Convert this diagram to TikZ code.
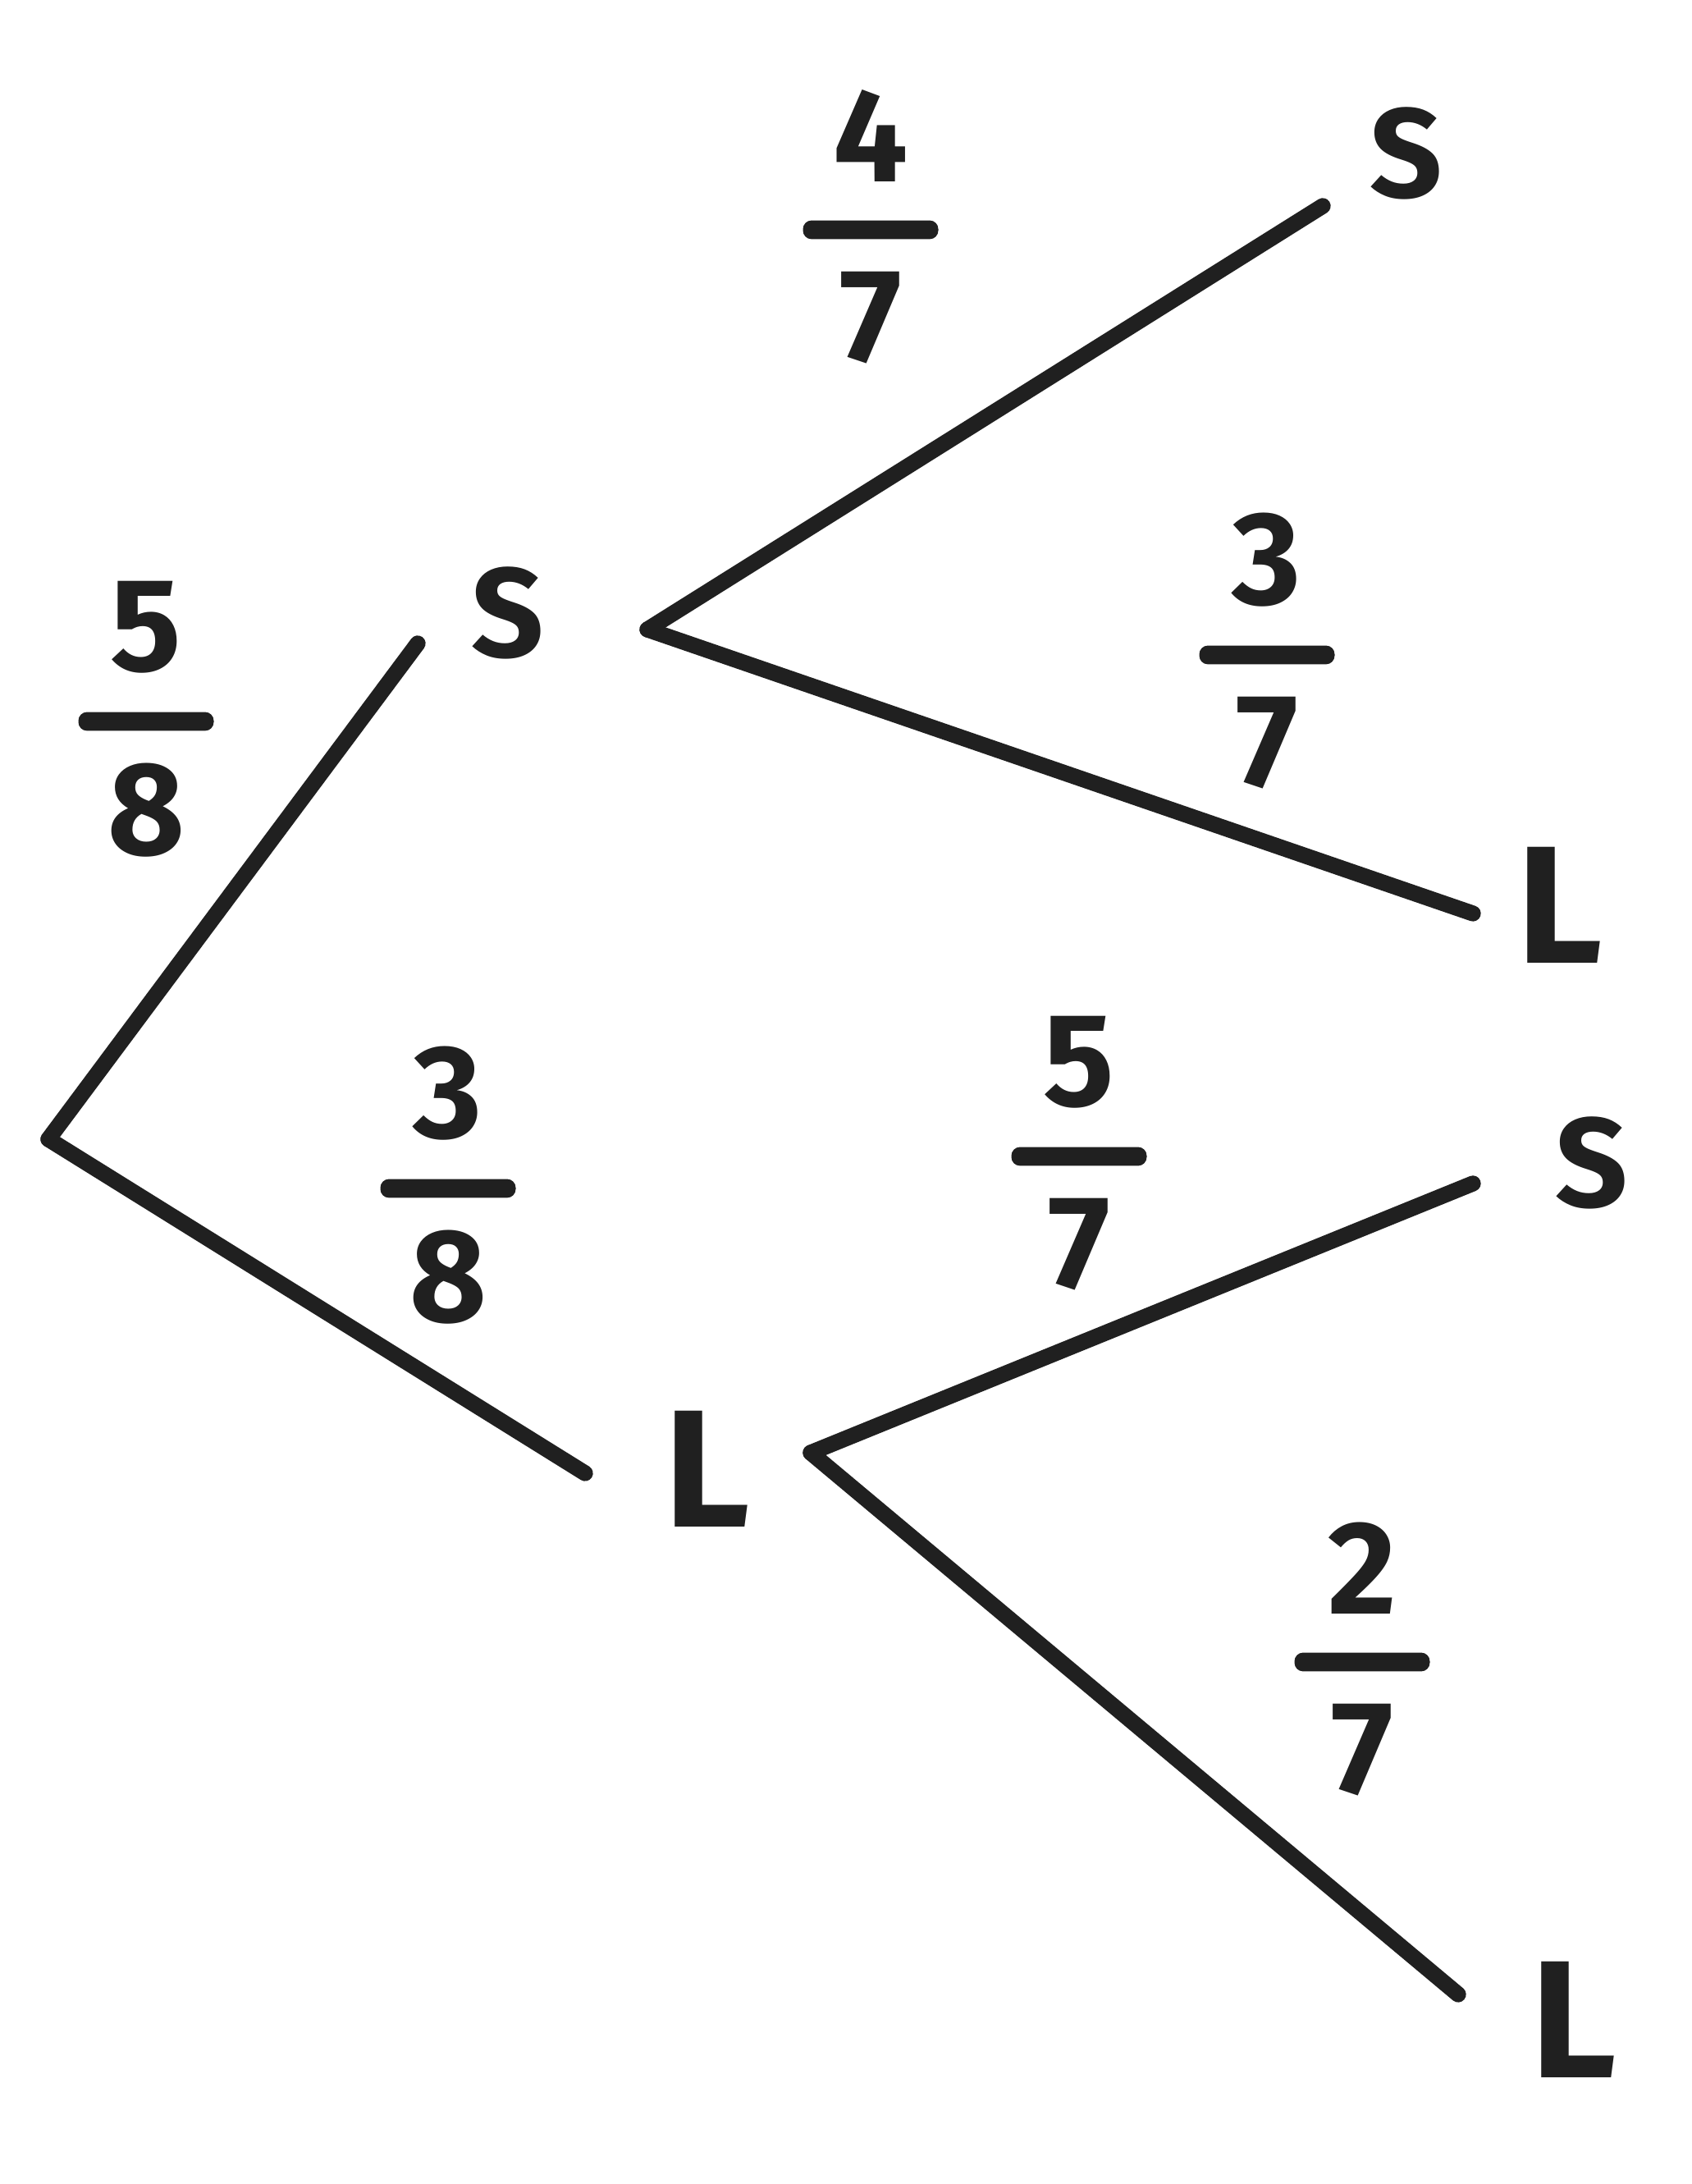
\documentclass[tikz,border=0pt]{standalone}
\usepackage{fontspec}
\setmainfont{Fira Sans}
\usepackage{xcolor}
\usetikzlibrary{positioning}
\definecolor{inkgray}{HTML}{202020}
\tikzset{
    branch/.style={draw=inkgray, line width=5.5pt, line cap=round},
    leaf/.style={text=inkgray, inner sep=0pt, font=\bfseries\fontsize{44}{52}\selectfont},
    bigleaf/.style={leaf, font=\bfseries\fontsize{58}{66}\selectfont},
    digit/.style={text=inkgray, inner sep=0pt, font=\bfseries\fontsize{46}{54}\selectfont},
    fracbar/.style={fill=inkgray, minimum width=1.65cm, minimum height=6.5pt, inner sep=0pt, rounded corners=3pt}
}
\begin{document}
\begin{tikzpicture}
        \useasboundingbox (0,0) rectangle (20.62,26.61);
        % branch points
        \coordinate (root) at (0.59,12.73);
        \coordinate (s-in) at (5.09,18.77);
        \coordinate (s-out) at (7.89,18.94);
        \coordinate (l-in) at (7.13,8.66);
        \coordinate (l-out) at (9.88,8.91);
        \coordinate (ss-end) at (16.12,24.10);
        \coordinate (sl-end) at (17.95,15.48);
        \coordinate (ls-end) at (17.95,12.19);
        \coordinate (ll-end) at (17.77,2.31);
        % outcomes
        \node[leaf] (s) at (6.19,19.14) {S};
        \node[bigleaf] (l) at (8.62,8.71) {L};
        \node[leaf] (ss) at (17.14,24.74) {S};
        \node[bigleaf] (sl) at (19.01,15.58) {L};
        \node[leaf] (ls) at (19.40,12.44) {S};
        \node[bigleaf] (ll) at (19.18,2.00) {L};
        % branches
        \draw[branch] (root) -- (s-in);
        \draw[branch] (root) -- (l-in);
        \draw[branch] (s-out) -- (ss-end);
        \draw[branch] (s-out) -- (sl-end);
        \draw[branch] (l-out) -- (ls-end);
        \draw[branch] (l-out) -- (ll-end);
        % probabilities
        \node[fracbar] (bar-s) at (1.78,17.82) {};
        \node[digit, above=0.46cm of bar-s] (num-s) {5};
        \node[digit, below=0.38cm of bar-s] (den-s) {8};
        \node[fracbar] (bar-l) at (5.46,12.13) {};
        \node[digit, above=0.46cm of bar-l] (num-l) {3};
        \node[digit, below=0.38cm of bar-l] (den-l) {8};
        \node[fracbar] (bar-ss) at (10.61,23.81) {};
        \node[digit, above=0.46cm of bar-ss] (num-ss) {4};
        \node[digit, below=0.38cm of bar-ss] (den-ss) {7};
        \node[fracbar] (bar-sl) at (15.44,18.63) {};
        \node[digit, above=0.46cm of bar-sl] (num-sl) {3};
        \node[digit, below=0.38cm of bar-sl] (den-sl) {7};
        \node[fracbar] (bar-ls) at (13.15,12.52) {};
        \node[digit, above=0.46cm of bar-ls] (num-ls) {5};
        \node[digit, below=0.38cm of bar-ls] (den-ls) {7};
        \node[fracbar] (bar-ll) at (16.60,6.36) {};
        \node[digit, above=0.46cm of bar-ll] (num-ll) {2};
        \node[digit, below=0.38cm of bar-ll] (den-ll) {7};
    \end{tikzpicture}
\end{document}
